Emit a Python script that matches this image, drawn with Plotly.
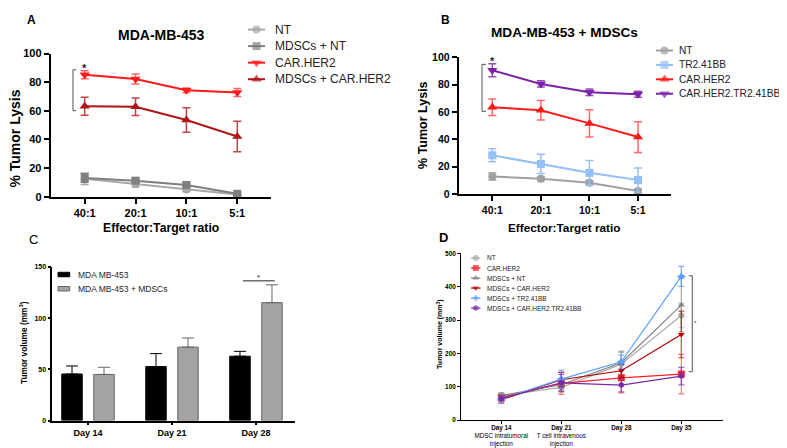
import plotly.graph_objects as go

W, H = 787, 448
FONT = "Liberation Sans, Arial, sans-serif"

# ---------------- data ----------------
ratios = ["40:1", "20:1", "10:1", "5:1"]

# Panel A (MDA-MB-453)
a_names = ["NT", "MDSCs + NT", "CAR.HER2", "MDSCs + CAR.HER2"]
a_nt = [12.5, 8.8, 5.0, 1.5]
a_nt_err = [4.0, 2.0, 1.5, 1.0]
a_mdsc_nt = [13.0, 11.2, 8.2, 2.0]
a_mdsc_nt_err = [3.0, 1.5, 1.5, 1.0]
a_car = [85.3, 82.3, 74.4, 72.8]
a_car_err = [2.8, 3.5, 1.5, 2.8]
a_mdsc_car = [63.2, 62.8, 53.6, 42.1]
a_mdsc_car_err = [6.3, 6.1, 8.5, 10.7]

# Panel B (MDA-MB-453 + MDSCs)
b_names = ["NT", "TR2.41BB", "CAR.HER2", "CAR.HER2.TR2.41BB"]
b_nt = [12.8, 11.2, 8.2, 2.2]
b_nt_err = [2.5, 1.5, 1.5, 1.5]
b_tr = [28.3, 22.0, 15.5, 10.2]
b_tr_err = [4.8, 7.0, 9.0, 8.8]
b_car = [63.4, 61.2, 51.6, 41.6]
b_car_err = [6.0, 7.2, 10.0, 11.2]
b_cartr = [90.4, 80.4, 74.3, 72.9]
b_cartr_err = [4.8, 2.3, 2.4, 2.2]

# Panel C (tumor volume bars)
c_days = ["Day 14", "Day 21", "Day 28"]
c_names = ["MDA MB-453", "MDA MB-453 + MDSCs"]
c_mda = [45.4, 52.7, 62.8]
c_mda_err = [7.9, 12.7, 4.8]
c_mdsc = [45.0, 71.7, 115.2]
c_mdsc_err = [7.0, 8.9, 17.4]

# Panel D (tumor growth curves)
d_days = ["Day 14", "Day 21", "Day 28", "Day 35"]
d_ticktext = ["<b>Day 14</b><br>MDSC intratumoral<br>injection",
              "<b>Day 21</b><br>T cell intravenous<br>injection",
              "<b>Day 28</b>", "<b>Day 35</b>"]
d_names = ["NT", "CAR.HER2", "MDSCs + NT", "MDSCs + CAR.HER2",
           "MDSCs + TR2.41BB", "MDSCs + CAR.HER2.TR2.41BB"]
d_nt = [73, 98, 168, 314]
d_nt_err = [8, 15, 35, 37]
d_car = [68, 110, 127, 138]
d_car_err = [8, 33, 45, 59]
d_mdsc_nt = [74, 106, 172, 345]
d_mdsc_nt_err = [8, 20, 35, 80]
d_mdsc_car = [61, 121, 148, 257]
d_mdsc_car_err = [10, 22, 20, 70]
d_tr = [63, 123, 175, 431]
d_tr_err = [8, 27, 20, 30]
d_cartr = [65, 112, 105, 132]
d_cartr_err = [8, 25, 20, 26]

# ---------------- helpers ----------------
def px(x):
    return x / W


def py(y):
    return 1 - y / H


fig = go.Figure()


def add_line(x, y, err, color, symbol, size, lw, xa, ya, errcolor=None, capw=4, errt=1.5):
    fig.add_trace(go.Scatter(
        x=x, y=y, mode="lines+markers",
        line=dict(color=color, width=lw),
        marker=dict(symbol=symbol, size=size, color=color, line=dict(width=0)),
        error_y=dict(type="data", array=err, visible=True,
                     color=errcolor or color, thickness=errt, width=capw),
        xaxis=xa, yaxis=ya, showlegend=False, cliponaxis=False))


def add_text(x, y, text, size, bold=False, angle=0, xanchor="center", color="#000"):
    fig.add_annotation(x=px(x), y=py(y), xref="paper", yref="paper", text=text,
                       showarrow=False, xanchor=xanchor, yanchor="middle",
                       textangle=angle,
                       font=dict(family=FONT, size=size, color=color,
                                 weight="bold" if bold else "normal"))


def line_legend(names, colors, symbols, sizes, x0, x1, xt, y0, dy, fsize, lw):
    for i, (n, c, s, sz) in enumerate(zip(names, colors, symbols, sizes)):
        yy = y0 + i * dy
        fig.add_trace(go.Scatter(
            x=[x0, (x0 + x1) / 2, x1], y=[yy, yy, yy], mode="lines+markers",
            line=dict(color=c, width=lw),
            marker=dict(symbol=s, size=[0, sz, 0], color=c, line=dict(width=0)),
            xaxis="x5", yaxis="y5", showlegend=False, hoverinfo="skip"))
        add_text(xt, yy, n, fsize, xanchor="left", color="#222")


# ---------------- Panel A ----------------
A_NT, A_MNT, A_CAR, A_MCAR = "#a8a8a8", "#7f7f7f", "#ff1a1a", "#b01414"
add_line(ratios, a_nt, a_nt_err, A_NT, "circle", 8, 2, "x", "y")
add_line(ratios, a_mdsc_nt, a_mdsc_nt_err, A_MNT, "square", 8, 2, "x", "y")
add_line(ratios, a_car, a_car_err, A_CAR, "triangle-down", 9, 2, "x", "y", errcolor="rgba(255,40,40,0.7)")
add_line(ratios, a_mdsc_car, a_mdsc_car_err, A_MCAR, "triangle-up", 9, 2, "x", "y", errcolor="rgba(180,20,20,0.8)")

# ---------------- Panel B ----------------
B_NT, B_TR, B_CAR, B_CT = "#a0a0a0", "#94bff7", "#ff1a1a", "#7a22a8"
add_line(ratios, b_nt, b_nt_err, B_NT, "circle", 8, 2, "x2", "y2")
add_line(ratios, b_tr, b_tr_err, B_TR, "square", 8, 2, "x2", "y2")
add_line(ratios, b_car, b_car_err, B_CAR, "triangle-up", 9, 2, "x2", "y2", errcolor="rgba(255,40,40,0.7)")
add_line(ratios, b_cartr, b_cartr_err, B_CT, "triangle-down", 9, 2, "x2", "y2", errcolor="rgba(122,34,168,0.8)")

# ---------------- Panel C ----------------
fig.add_trace(go.Bar(x=c_days, y=c_mda, marker=dict(color="#000000", line=dict(color="#000", width=1)),
                     error_y=dict(type="data", symmetric=False, array=c_mda_err,
                                  arrayminus=[0] * len(c_mda), color="#000", thickness=1, width=6),
                     xaxis="x3", yaxis="y3", showlegend=False))
fig.add_trace(go.Bar(x=c_days, y=c_mdsc, marker=dict(color="#a3a3a6", line=dict(color="#666", width=1)),
                     error_y=dict(type="data", symmetric=False, array=c_mdsc_err,
                                  arrayminus=[0] * len(c_mdsc), color="#666", thickness=1, width=6),
                     xaxis="x3", yaxis="y3", showlegend=False))

# ---------------- Panel D ----------------
D_COL = ["#ababab", "#ff2222", "#808080", "#b00000", "#5c9dff", "#7a2aa8"]
D_ERR = ["rgba(171,171,171,0.75)", "rgba(255,34,34,0.6)", "rgba(128,128,128,0.7)",
         "rgba(176,0,0,0.7)", "rgba(92,157,255,0.8)", "rgba(122,42,168,0.7)"]
D_SYM = ["circle", "square", "triangle-up", "triangle-down", "star-diamond", "hexagon"]
D_SIZE = [6, 7, 6, 6, 7, 6]
d_vals = [d_nt, d_car, d_mdsc_nt, d_mdsc_car, d_tr, d_cartr]
d_errs = [d_nt_err, d_car_err, d_mdsc_nt_err, d_mdsc_car_err, d_tr_err, d_cartr_err]
for vals, errs, c, ec, s, sz in zip(d_vals, d_errs, D_COL, D_ERR, D_SYM, D_SIZE):
    add_line(d_days, vals, errs, c, s, sz, 1.2, "x4", "y4", errcolor=ec, capw=3, errt=1.2)

# ---------------- legends (manual keys) ----------------
line_legend(a_names, [A_NT, A_MNT, A_CAR, A_MCAR], ["circle", "square", "triangle-down", "triangle-up"],
            [8, 8, 9, 9], 240, 257, 265, 16, 17, 12, 2)
line_legend(b_names, [B_NT, B_TR, B_CAR, B_CT], ["circle", "square", "triangle-up", "triangle-down"],
            [8, 8, 9, 9], 648, 665, 668.5, 37.5, 14.8, 10.2, 2)
line_legend(d_names, D_COL, D_SYM, [6, 6, 6, 6, 6, 6], 463, 472.5, 476.7, 250.7, 10.3, 6.5, 1.2)

for i, (n, fc, lc) in enumerate(zip(c_names, ["#000000", "#a3a3a6"], ["#000", "#666"])):
    yy = 267.7 + i * 14.6
    fig.add_shape(type="rect", xref="paper", yref="paper", x0=px(50), x1=px(61.7),
                  y0=py(yy + 2.3), y1=py(yy - 2.3), fillcolor=fc, line=dict(color=lc, width=1))
    add_text(68.3, yy, n, 8.5, xanchor="left", color="#222")

# ---------------- significance brackets ----------------
BR = dict(color="#555", width=1)
fig.add_shape(type="path", xref="x", yref="y", path="M -0.167 88.7 L -0.23 88.7 L -0.23 60.1 L -0.167 60.1", line=BR)
fig.add_annotation(x=0, y=89.8, xref="x", yref="y", text="*", showarrow=False,
                   font=dict(family=FONT, size=11, weight="bold", color="#222"))
fig.add_shape(type="path", xref="x2", yref="y2", path="M -0.13 94.7 L -0.212 94.7 L -0.212 60.4 L -0.13 60.4", line=BR)
fig.add_annotation(x=0, y=97.4, xref="x2", yref="y2", text="*", showarrow=False,
                   font=dict(family=FONT, size=11, weight="bold", color="#222"))
fig.add_shape(type="line", xref="x3", yref="y3", x0=1.845, x1=2.223, y0=136.5, y1=136.5, line=dict(color="#222", width=1))
fig.add_annotation(x=2.03, y=139.6, xref="x3", yref="y3", text="*", showarrow=False,
                   font=dict(family=FONT, size=8, color="#222"))
fig.add_shape(type="path", xref="x4", yref="y4", path="M 3.123 433 L 3.183 433 L 3.183 145 L 3.123 145", line=BR)
fig.add_annotation(x=3.233, y=290, xref="x4", yref="y4", text="*", showarrow=False,
                   font=dict(family=FONT, size=6, color="#222"))

# ---------------- titles / labels ----------------
add_text(23, 6, "A", 12, bold=True)
add_text(437, 6, "B", 12, bold=True)
add_text(25, 232, "C", 13)
add_text(435, 230, "D", 13, bold=True)
add_text(153, 22, "MDA-MB-453", 14, bold=True)
add_text(556.7, 19.5, "MDA-MB-453 + MDSCs", 13.6, bold=True)
add_text(153, 220, "Effector:Target ratio", 12.2, bold=True)
add_text(556.7, 220, "Effector:Target ratio", 11.8, bold=True)
add_text(7, 128, "% Tumor Lysis", 14, bold=True, angle=-90)
add_text(415, 114, "% Tumor Lysis", 12.5, bold=True, angle=-90)
add_text(15, 338, "Tumor volume (mm<sup>3</sup>)", 8.3, bold=True, angle=-90)
add_text(431.7, 329, "Tumor volume (mm<sup>3</sup>)", 7, bold=True, angle=-90)

# ---------------- axes ----------------
def xax(domain, rng, lw, tlen, tsize, anchor):
    return dict(domain=domain, range=rng, type="category", anchor=anchor, showline=True,
                linecolor="#000", linewidth=lw, ticks="outside", ticklen=tlen, tickwidth=lw,
                tickcolor="#000", showgrid=False, zeroline=False, fixedrange=True,
                tickfont=dict(family=FONT, size=tsize, color="#000", weight="bold"))


def yax(domain, rng, dtick, lw, tlen, tsize, anchor):
    return dict(domain=domain, range=rng, dtick=dtick, anchor=anchor, showline=True,
                linecolor="#000", linewidth=lw, ticks="outside", ticklen=tlen, tickwidth=lw,
                tickcolor="#000", showgrid=False, zeroline=False, fixedrange=True,
                tickfont=dict(family=FONT, size=tsize, color="#000", weight="bold"))


layout = dict(
    width=W, height=H, margin=dict(l=0, r=0, t=0, b=0),
    paper_bgcolor="white", plot_bgcolor="rgba(0,0,0,0)",
    font=dict(family=FONT, color="#000"),
    barmode="group", bargap=0.238, bargroupgap=0.36, showlegend=False,
    xaxis=xax([px(42.7), px(263.3)], [-0.668, 3.669], 2, 5, 11, "y"),
    yaxis=yax([py(187.7), py(40.7)], [0, 100], 20, 2, 5, 11, "x"),
    xaxis2=xax([px(450.7), px(662.7)], [-0.692, 3.673], 2, 5, 10.5, "y2"),
    yaxis2=yax([py(185), py(44.3)], [0, 100], 20, 2, 5, 10.5, "x2"),
    xaxis3=xax([px(44.3), px(286.7)], [-0.425, 2.461], 1.5, 3, 9, "y3"),
    yaxis3=yax([py(417.7), py(260)], [0, 150], 50, 1.5, 3, 7, "x3"),
    xaxis4=xax([px(453.3), px(715)], [-0.667, 3.695], 1.2, 3, 6.3, "y4"),
    yaxis4=yax([py(417.3), py(246)], [0, 500], 100, 1.2, 3, 6.5, "x4"),
    xaxis5=dict(domain=[0, 1], range=[0, W], visible=False, anchor="y5", fixedrange=True),
    yaxis5=dict(domain=[0, 1], range=[H, 0], visible=False, anchor="x5", fixedrange=True),
)
layout["xaxis4"].update(tickmode="array", tickvals=d_days, ticktext=d_ticktext,
                        ticklabelstandoff=-2,
                        tickfont=dict(family=FONT, size=6.3, color="#000"))
fig.update_layout(**layout)

fig.write_html("out.html")
